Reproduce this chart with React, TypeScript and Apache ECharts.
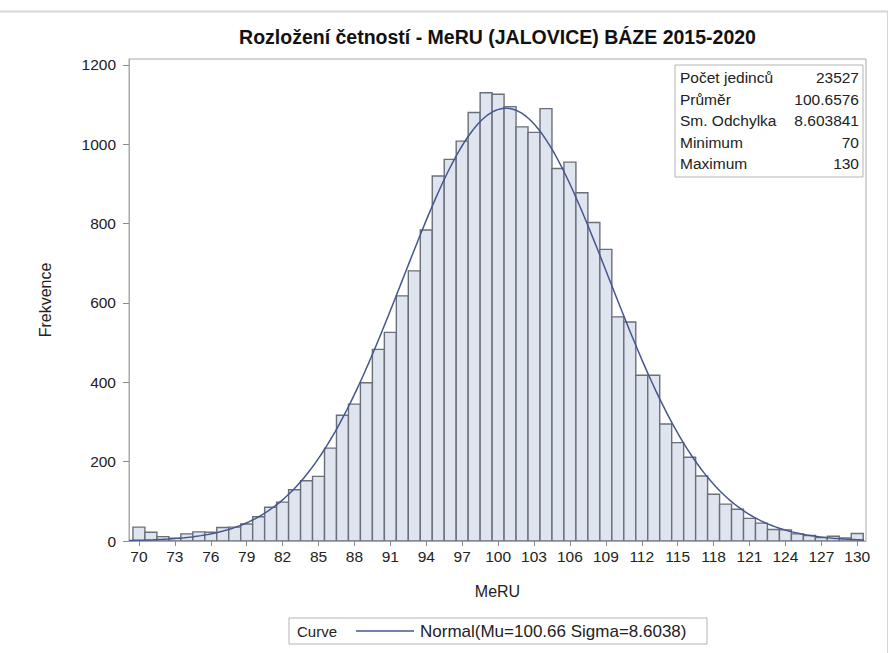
import React, { useEffect, useRef } from "react";
import * as echarts from "echarts";

// Histogram bins (MeRU value, bin width 1) and their frequencies
const meruValues: number[] = [
  70, 71, 72, 73, 74, 75, 76, 77, 78, 79, 80, 81, 82, 83, 84, 85, 86, 87, 88, 89,
  90, 91, 92, 93, 94, 95, 96, 97, 98, 99, 100, 101, 102, 103, 104, 105, 106, 107, 108, 109,
  110, 111, 112, 113, 114, 115, 116, 117, 118, 119, 120, 121, 122, 123, 124, 125, 126, 127, 128, 129,
  130,
];
const frequencies: number[] = [
  35, 22, 11, 7, 18, 23, 22, 34, 35, 43, 61, 85, 98, 129, 152, 163, 234, 317, 345, 399,
  483, 526, 618, 681, 784, 920, 962, 1008, 1080, 1130, 1126, 1095, 1044, 1030, 1090, 939, 955, 878, 803, 735,
  565, 552, 418, 418, 295, 248, 211, 164, 118, 93, 80, 57, 45, 29, 28, 18, 14, 9, 12, 8,
  19,
];

// Tick labels
const xTicks: number[] = [70, 73, 76, 79, 82, 85, 88, 91, 94, 97, 100, 103, 106, 109, 112, 115, 118, 121, 124, 127, 130];
const yTicks: number[] = [0, 200, 400, 600, 800, 1000, 1200];

// Summary statistics
const statLabels: string[] = ["Počet jedinců", "Průměr", "Sm. Odchylka", "Minimum", "Maximum"];
const statValues: string[] = ["23527", "100.6576", "8.603841", "70", "130"];

// Fitted normal curve parameters
const N_TOTAL = 23527;
const MU = 100.66;
const SIGMA = 8.6038;
const BIN_WIDTH = 1;

const X_MIN = 69.17;
const X_MAX = 130.73;

const FONT = "'Liberation Sans', Arial, sans-serif";

function normalCurve(): number[][] {
  const pts: number[][] = [];
  const k = (N_TOTAL * BIN_WIDTH) / (SIGMA * Math.sqrt(2 * Math.PI));
  for (let x = X_MIN; x <= X_MAX + 1e-9; x += 0.2) {
    const z = (x - MU) / SIGMA;
    pts.push([x, k * Math.exp(-0.5 * z * z)]);
  }
  return pts;
}

export default function App() {
  const ref = useRef<HTMLDivElement>(null);

  useEffect(() => {
    if (!ref.current) return;
    const chart = echarts.init(ref.current, undefined, { renderer: "svg" });

    const barData = meruValues.map((v, i) => [v, frequencies[i]]);

    const statsX = 675;
    const statsY = 65;
    const statsW = 188;
    const rowH = 21.5;

    const statGraphics: any[] = [
      {
        type: "rect",
        shape: { x: statsX, y: statsY, width: statsW, height: 112 },
        style: { fill: "#fff", stroke: "#b4b4b4", lineWidth: 1 },
        z: 10,
      },
    ];
    statLabels.forEach((label, i) => {
      const cy = statsY + 12.5 + i * rowH;
      statGraphics.push({
        type: "text",
        x: statsX + 5,
        y: cy,
        z: 11,
        style: { text: label, fill: "#222", font: `15.5px ${FONT}`, textAlign: "left", textVerticalAlign: "middle" },
      });
      statGraphics.push({
        type: "text",
        x: statsX + statsW - 4,
        y: cy,
        z: 11,
        style: { text: statValues[i], fill: "#222", font: `15.5px ${FONT}`, textAlign: "right", textVerticalAlign: "middle" },
      });
    });

    const legendY = 631;
    const legendGraphics: any[] = [
      {
        type: "rect",
        shape: { x: 289, y: 618, width: 418, height: 26 },
        style: { fill: "#fff", stroke: "#b4b4b4", lineWidth: 1 },
      },
      {
        type: "text",
        x: 297,
        y: legendY,
        style: { text: "Curve", fill: "#222", font: `15px ${FONT}`, textVerticalAlign: "middle" },
      },
      {
        type: "line",
        shape: { x1: 356, y1: legendY, x2: 414, y2: legendY },
        style: { stroke: "#45568f", lineWidth: 1.5 },
      },
      {
        type: "text",
        x: 420,
        y: legendY,
        style: {
          text: `Normal(Mu=${MU.toFixed(2)} Sigma=${SIGMA.toFixed(4)})`,
          fill: "#222",
          font: `17px ${FONT}`,
          textVerticalAlign: "middle",
        },
      },
    ];

    chart.setOption({
      animation: false,
      backgroundColor: "#fff",
      textStyle: { fontFamily: FONT },
      grid: {
        left: 129,
        top: 59,
        right: 29,
        bottom: 112,
        show: true,
        borderColor: "#a8a8a8",
        borderWidth: 1,
        backgroundColor: "transparent",
      },
      xAxis: {
        type: "value",
        min: X_MIN,
        max: X_MAX,
        name: "MeRU",
        nameLocation: "middle",
        nameGap: 42,
        nameTextStyle: { fontSize: 16, color: "#222", fontFamily: FONT },
        axisLine: { show: true, lineStyle: { color: "#a8a8a8" } },
        axisTick: { show: true, customValues: xTicks, length: 5, lineStyle: { color: "#8a8a8a" } },
        axisLabel: { customValues: xTicks, fontSize: 15.5, color: "#222", margin: 7, fontFamily: FONT },
        splitLine: { show: false },
      },
      yAxis: {
        type: "value",
        min: 0,
        max: 1215,
        name: "Frekvence",
        nameLocation: "middle",
        nameGap: 76,
        nameRotate: 90,
        nameTextStyle: { fontSize: 16, color: "#222", fontFamily: FONT },
        axisLine: { show: true, lineStyle: { color: "#a8a8a8" } },
        axisTick: { show: true, customValues: yTicks, length: 6, lineStyle: { color: "#8a8a8a" } },
        axisLabel: {
          customValues: yTicks,
          fontSize: 15.5,
          color: "#222",
          margin: 13,
          fontFamily: FONT,
          formatter: (v: number) => String(v),
        },
        splitLine: { show: false },
      },
      series: [
        {
          type: "custom",
          name: "Frekvence",
          data: barData,
          encode: { x: 0, y: 1 },
          clip: true,
          renderItem: (_params: any, api: any) => {
            const x = api.value(0);
            const y = api.value(1);
            const p0 = api.coord([x - BIN_WIDTH / 2, y]);
            const p1 = api.coord([x + BIN_WIDTH / 2, 0]);
            return {
              type: "rect",
              shape: { x: p0[0], y: p0[1], width: p1[0] - p0[0], height: p1[1] - p0[1] },
              style: { fill: "#dfe5ef", stroke: "#6a6f7a", lineWidth: 1.4 },
            };
          },
        },
        {
          type: "line",
          name: "Normal",
          data: normalCurve(),
          showSymbol: false,
          smooth: false,
          lineStyle: { color: "#45568f", width: 1.5 },
          z: 5,
        },
      ],
      graphic: [
        {
          type: "text",
          x: 497.5,
          y: 37,
          style: {
            text: "Rozložení četností - MeRU (JALOVICE) BÁZE 2015-2020",
            fill: "#111",
            font: `bold 19.5px ${FONT}`,
            textAlign: "center",
            textVerticalAlign: "middle",
          },
        },
        { type: "line", shape: { x1: 0, y1: 11.5, x2: 888, y2: 11.5 }, style: { stroke: "#d6d6d6", lineWidth: 2 } },
        { type: "line", shape: { x1: 887.5, y1: 11, x2: 887.5, y2: 653 }, style: { stroke: "#d6d6d6", lineWidth: 1 } },
        ...statGraphics,
        ...legendGraphics,
      ],
    });

    return () => chart.dispose();
  }, []);

  return (
    <div
      ref={ref}
      style={{ position: "absolute", left: 0, top: 0, width: 895, height: 653, background: "#fff" }}
    />
  );
}
